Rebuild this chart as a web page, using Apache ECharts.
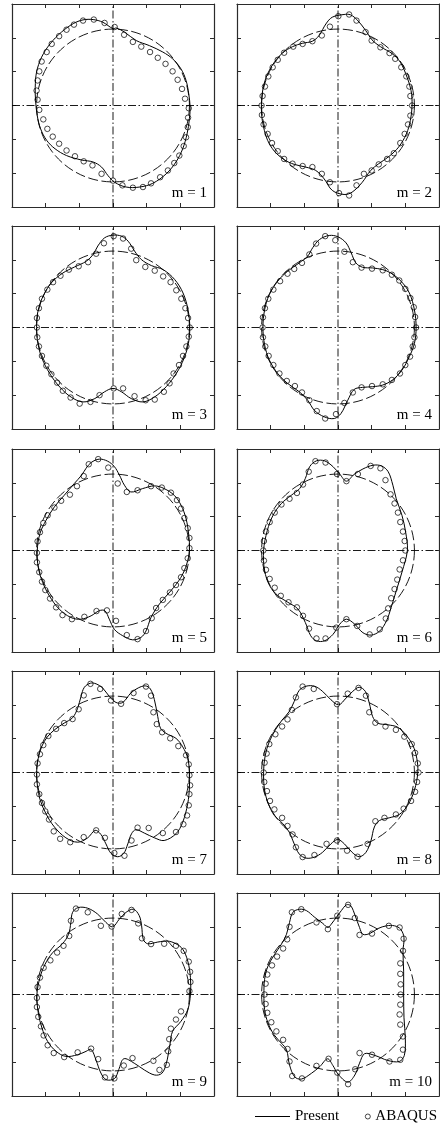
<!DOCTYPE html>
<html>
<head>
<meta charset="utf-8">
<script src="https://cdn.jsdelivr.net/npm/echarts@6/dist/echarts.min.js"></script>
<style>
  html, body { margin: 0; padding: 0; background: #fff; }
  #chart { width: 440px; height: 1129px; }
</style>
</head>
<body>
<div id="chart"></div>
<script>
// Axis range shared by every panel (normalised ring coordinates)
const axisMin = -3, axisMax = 3, tickStep = 1;
// Radius of the undeformed ring (dashed reference)
const refRadius = 2.27;
const modeLabels = ['m = 1', 'm = 2', 'm = 3', 'm = 4', 'm = 5', 'm = 6', 'm = 7', 'm = 8', 'm = 9', 'm = 10'];

// Present solution: deformed ring outlines [x, y]
const present1 = [[0.00,2.27],[-0.30,2.46],[-0.59,2.54],[-0.89,2.53],[-1.18,2.42],[-1.53,2.17],[-1.87,1.82],[-2.12,1.43],[-2.27,0.99],[-2.31,0.54],[-2.30,0.15],[-2.25,-0.30],[-2.15,-0.69],[-1.97,-1.03],[-1.72,-1.28],[-1.38,-1.48],[-0.94,-1.61],[-0.59,-1.67],[-0.34,-1.82],[-0.15,-2.07],[0.05,-2.27],[0.39,-2.41],[0.79,-2.41],[1.18,-2.30],[1.58,-2.02],[1.87,-1.67],[2.07,-1.28],[2.20,-0.84],[2.27,-0.39],[2.29,-0.05],[2.25,0.34],[2.17,0.74],[2.02,1.08],[1.77,1.38],[1.48,1.58],[1.08,1.77],[0.69,1.92],[0.34,2.17],[0.10,2.29]];
const present2 = [[0.18,2.69],[-0.17,2.61],[-0.36,2.41],[-0.56,2.07],[-0.76,1.90],[-1.05,1.84],[-1.35,1.74],[-1.65,1.55],[-1.89,1.28],[-2.09,0.94],[-2.22,0.54],[-2.27,0.15],[-2.27,-0.25],[-2.21,-0.64],[-2.09,-1.03],[-1.89,-1.35],[-1.60,-1.60],[-1.30,-1.74],[-0.96,-1.82],[-0.66,-1.92],[-0.41,-2.17],[-0.17,-2.51],[0.18,-2.63],[0.42,-2.56],[0.72,-2.27],[0.97,-1.92],[1.21,-1.72],[1.51,-1.51],[1.80,-1.23],[2.03,-0.84],[2.15,-0.44],[2.20,0.00],[2.17,0.44],[2.05,0.84],[1.85,1.28],[1.61,1.53],[1.26,1.74],[1.01,1.94],[0.82,2.22],[0.57,2.53],[0.37,2.68]];
const present3 = [[2.28,0.00],[2.23,0.52],[2.08,1.02],[1.83,1.42],[1.49,1.71],[1.14,1.83],[0.84,2.01],[0.64,2.26],[0.45,2.55],[0.25,2.70],[0.00,2.73],[-0.25,2.65],[-0.45,2.41],[-0.59,2.16],[-0.79,1.96],[-1.14,1.79],[-1.49,1.61],[-1.83,1.32],[-2.08,0.92],[-2.23,0.48],[-2.27,0.00],[-2.23,-0.47],[-2.11,-0.91],[-1.88,-1.36],[-1.58,-1.76],[-1.24,-2.06],[-0.89,-2.20],[-0.54,-2.10],[-0.25,-1.90],[0.00,-1.80],[0.25,-1.90],[0.54,-2.10],[0.89,-2.20],[1.24,-2.05],[1.58,-1.75],[1.88,-1.36],[2.11,-0.91],[2.24,-0.47]];
const present4 = [[2.32,0.00],[2.27,0.52],[2.12,1.02],[1.87,1.37],[1.57,1.61],[1.33,1.71],[1.03,1.76],[0.73,1.78],[0.53,1.91],[0.39,2.21],[0.24,2.50],[0.00,2.68],[-0.26,2.72],[-0.55,2.60],[-0.75,2.36],[-0.90,2.11],[-1.15,1.91],[-1.50,1.66],[-1.79,1.37],[-2.04,0.97],[-2.18,0.52],[-2.23,0.00],[-2.18,-0.51],[-2.04,-0.96],[-1.79,-1.36],[-1.50,-1.65],[-1.15,-1.90],[-0.90,-2.15],[-0.70,-2.45],[-0.41,-2.64],[-0.11,-2.69],[0.09,-2.54],[0.29,-2.15],[0.48,-1.83],[0.73,-1.77],[1.03,-1.75],[1.33,-1.70],[1.62,-1.55],[1.90,-1.26],[2.12,-0.86],[2.27,-0.47]];
const present5 = [[2.27,0.00],[2.25,0.45],[2.17,0.94],[2.02,1.34],[1.82,1.63],[1.52,1.83],[1.23,1.91],[0.88,1.83],[0.53,1.73],[0.34,1.93],[0.19,2.23],[0.04,2.48],[-0.16,2.64],[-0.41,2.70],[-0.65,2.60],[-0.80,2.43],[-0.93,2.23],[-1.15,1.98],[-1.45,1.63],[-1.74,1.29],[-1.99,0.89],[-2.17,0.50],[-2.25,0.00],[-2.22,-0.50],[-2.09,-0.94],[-1.89,-1.34],[-1.60,-1.73],[-1.25,-1.98],[-0.95,-2.03],[-0.65,-1.93],[-0.41,-1.78],[-0.24,-1.78],[-0.11,-2.03],[0.04,-2.33],[0.29,-2.52],[0.58,-2.64],[0.83,-2.57],[0.98,-2.38],[1.13,-1.98],[1.38,-1.58],[1.72,-1.19],[2.02,-0.79],[2.19,-0.40]];
const present6 = [[2.06,0.00],[2.01,0.54],[1.90,1.04],[1.73,1.53],[1.63,1.93],[1.49,2.33],[1.29,2.50],[1.04,2.52],[0.74,2.41],[0.48,2.25],[0.25,2.05],[0.05,2.26],[-0.15,2.48],[-0.40,2.65],[-0.64,2.65],[-0.84,2.48],[-0.97,2.13],[-1.14,1.83],[-1.39,1.63],[-1.68,1.39],[-1.93,1.04],[-2.10,0.59],[-2.21,0.00],[-2.18,-0.59],[-2.03,-1.04],[-1.78,-1.34],[-1.49,-1.53],[-1.19,-1.73],[-0.97,-2.13],[-0.81,-2.52],[-0.64,-2.67],[-0.40,-2.67],[-0.15,-2.48],[0.05,-2.18],[0.25,-2.03],[0.50,-2.18],[0.74,-2.43],[0.99,-2.50],[1.24,-2.38],[1.44,-2.08],[1.58,-1.68],[1.73,-1.19],[1.90,-0.64]];
const present7 = [[2.27,0.00],[2.22,0.42],[2.07,0.76],[1.87,1.01],[1.57,1.16],[1.41,1.31],[1.33,1.65],[1.23,2.15],[1.11,2.47],[0.96,2.56],[0.75,2.50],[0.53,2.35],[0.29,2.07],[0.09,2.07],[-0.11,2.25],[-0.31,2.50],[-0.50,2.62],[-0.67,2.64],[-0.85,2.52],[-0.95,2.25],[-1.05,1.90],[-1.20,1.62],[-1.45,1.46],[-1.74,1.26],[-1.96,1.04],[-2.12,0.76],[-2.22,0.42],[-2.27,0.00],[-2.24,-0.43],[-2.16,-0.82],[-1.99,-1.22],[-1.74,-1.61],[-1.40,-1.93],[-1.05,-2.06],[-0.75,-1.93],[-0.53,-1.71],[-0.36,-1.83],[-0.21,-2.11],[-0.06,-2.39],[0.14,-2.49],[0.32,-2.39],[0.44,-2.11],[0.55,-1.81],[0.68,-1.69],[0.93,-1.79],[1.23,-1.93],[1.52,-2.01],[1.87,-1.81],[2.07,-1.47],[2.22,-0.92],[2.27,-0.43]];
const present8 = [[2.37,0.00],[2.34,0.42],[2.22,0.81],[2.02,1.11],[1.77,1.34],[1.48,1.41],[1.18,1.46],[1.03,1.65],[0.93,2.05],[0.81,2.40],[0.63,2.52],[0.44,2.40],[0.24,2.20],[0.02,2.00],[-0.21,2.15],[-0.46,2.40],[-0.70,2.55],[-0.95,2.55],[-1.15,2.43],[-1.30,2.10],[-1.45,1.80],[-1.66,1.55],[-1.86,1.26],[-2.04,0.91],[-2.16,0.51],[-2.21,0.00],[-2.18,-0.52],[-2.07,-0.92],[-1.89,-1.27],[-1.64,-1.51],[-1.45,-1.76],[-1.30,-2.11],[-1.15,-2.41],[-0.95,-2.53],[-0.70,-2.50],[-0.46,-2.36],[-0.21,-2.11],[-0.01,-1.98],[0.19,-2.11],[0.42,-2.36],[0.63,-2.49],[0.83,-2.36],[0.98,-2.01],[1.08,-1.61],[1.23,-1.42],[1.52,-1.34],[1.82,-1.24],[2.07,-0.97],[2.27,-0.52]];
const present9 = [[2.30,0.00],[2.30,0.50],[2.22,0.99],[2.07,1.34],[1.87,1.50],[1.62,1.58],[1.33,1.55],[1.03,1.50],[0.90,1.63],[0.85,2.03],[0.78,2.33],[0.61,2.52],[0.39,2.43],[0.19,2.23],[-0.01,2.00],[-0.21,2.13],[-0.46,2.38],[-0.75,2.55],[-1.03,2.57],[-1.20,2.43],[-1.25,2.13],[-1.32,1.78],[-1.50,1.50],[-1.79,1.24],[-2.02,0.89],[-2.17,0.50],[-2.26,0.00],[-2.22,-0.54],[-2.11,-0.99],[-1.94,-1.39],[-1.69,-1.68],[-1.40,-1.83],[-1.05,-1.78],[-0.80,-1.68],[-0.65,-1.62],[-0.50,-1.95],[-0.36,-2.32],[-0.20,-2.52],[0.05,-2.48],[0.17,-2.22],[0.32,-1.90],[0.63,-2.03],[0.93,-2.23],[1.24,-2.38],[1.45,-2.33],[1.58,-2.05],[1.69,-1.49],[1.77,-1.09],[2.02,-0.79],[2.22,-0.45]];
const present10 = [[1.95,0.00],[1.95,0.69],[1.93,1.29],[1.96,1.68],[1.86,1.93],[1.68,2.03],[1.44,2.03],[1.19,1.95],[0.94,1.80],[0.74,1.78],[0.64,1.98],[0.51,2.33],[0.38,2.62],[0.25,2.65],[0.10,2.48],[-0.05,2.28],[-0.20,2.08],[-0.30,1.98],[-0.45,2.10],[-0.69,2.28],[-0.94,2.48],[-1.14,2.52],[-1.34,2.43],[-1.44,2.13],[-1.53,1.78],[-1.68,1.49],[-1.88,1.19],[-2.08,0.84],[-2.18,0.45],[-2.20,0.00],[-2.18,-0.45],[-2.08,-0.84],[-1.90,-1.19],[-1.68,-1.44],[-1.53,-1.63],[-1.44,-2.08],[-1.29,-2.43],[-1.09,-2.50],[-0.79,-2.33],[-0.54,-2.13],[-0.31,-1.90],[-0.15,-2.10],[0.00,-2.35],[0.29,-2.59],[0.50,-2.38],[0.64,-2.03],[0.79,-1.75],[1.09,-1.80],[1.48,-1.95],[1.82,-1.98],[1.97,-1.80],[2.00,-1.31],[1.96,-0.69]];

// ABAQUS nodal results [x, y]
const abaqus1 = [[-1.16,2.39],[-0.89,2.51],[-0.57,2.54],[-0.25,2.44],[0.05,2.32],[0.33,2.09],[0.59,1.88],[0.84,1.74],[1.10,1.58],[1.33,1.41],[1.56,1.23],[1.77,1.01],[1.92,0.76],[2.05,0.49],[2.14,0.20],[2.25,-0.08],[2.23,-0.36],[2.22,-0.64],[2.17,-0.94],[2.10,-1.20],[1.97,-1.48],[1.82,-1.70],[1.63,-1.92],[1.40,-2.12],[1.13,-2.30],[0.89,-2.41],[0.59,-2.43],[0.28,-2.36],[0.00,-2.22],[-0.34,-2.02],[-0.61,-1.77],[-0.87,-1.65],[-1.13,-1.50],[-1.38,-1.33],[-1.60,-1.13],[-1.79,-0.92],[-1.95,-0.69],[-2.07,-0.41],[-2.19,-0.13],[-2.24,0.17],[-2.27,0.44],[-2.24,0.74],[-2.19,1.01],[-2.12,1.30],[-1.97,1.58],[-1.82,1.82],[-1.60,2.05],[-1.38,2.24]];
const abaqus2 = [[2.20,0.00],[2.15,0.28],[2.12,0.56],[2.03,0.86],[1.88,1.13],[1.70,1.38],[1.53,1.55],[1.26,1.72],[1.00,1.92],[0.82,2.17],[0.55,2.51],[0.33,2.69],[0.01,2.64],[-0.24,2.33],[-0.48,2.07],[-0.76,1.90],[-1.05,1.82],[-1.33,1.74],[-1.60,1.56],[-1.79,1.35],[-1.94,1.13],[-2.07,0.86],[-2.17,0.56],[-2.24,0.28],[-2.27,0.00],[-2.26,-0.28],[-2.21,-0.56],[-2.09,-0.84],[-1.96,-1.11],[-1.79,-1.35],[-1.60,-1.58],[-1.35,-1.72],[-1.05,-1.79],[-0.76,-1.82],[-0.48,-2.02],[-0.24,-2.27],[0.03,-2.59],[0.33,-2.66],[0.55,-2.36],[0.77,-2.02],[1.00,-1.92],[1.21,-1.74],[1.46,-1.58],[1.66,-1.41],[1.85,-1.11],[1.98,-0.84],[2.08,-0.56],[2.15,-0.30]];
const abaqus3 = [[0.02,2.70],[0.30,2.63],[0.54,2.33],[0.69,1.99],[0.96,1.79],[1.24,1.68],[1.49,1.51],[1.71,1.34],[1.88,1.10],[2.03,0.85],[2.15,0.57],[2.23,0.28],[2.28,0.00],[2.25,-0.27],[2.18,-0.56],[2.08,-0.84],[1.96,-1.11],[1.80,-1.36],[1.68,-1.65],[1.51,-1.90],[1.24,-2.13],[0.97,-2.15],[0.64,-2.03],[0.30,-1.80],[0.02,-1.80],[-0.40,-2.00],[-0.67,-2.20],[-0.99,-2.25],[-1.26,-2.07],[-1.49,-1.87],[-1.66,-1.63],[-1.83,-1.38],[-1.98,-1.13],[-2.11,-0.84],[-2.20,-0.56],[-2.25,-0.29],[-2.26,0.00],[-2.26,0.28],[-2.20,0.57],[-2.11,0.85],[-1.95,1.12],[-1.78,1.34],[-1.56,1.53],[-1.31,1.71],[-1.02,1.81],[-0.74,1.93],[-0.50,2.18],[-0.27,2.49]];
const abaqus4 = [[2.32,0.00],[2.29,0.31],[2.25,0.60],[2.15,0.87],[2.00,1.14],[1.82,1.39],[1.60,1.56],[1.33,1.69],[1.01,1.74],[0.70,1.77],[0.44,1.93],[0.19,2.24],[-0.08,2.58],[-0.38,2.70],[-0.65,2.48],[-0.85,2.16],[-1.07,1.91],[-1.30,1.73],[-1.50,1.59],[-1.72,1.37],[-1.92,1.12],[-2.07,0.85],[-2.17,0.57],[-2.23,0.30],[-2.24,0.00],[-2.23,-0.29],[-2.16,-0.56],[-2.06,-0.84],[-1.92,-1.11],[-1.74,-1.36],[-1.52,-1.58],[-1.28,-1.73],[-1.07,-1.92],[-0.85,-2.15],[-0.63,-2.47],[-0.38,-2.69],[-0.06,-2.56],[0.19,-2.23],[0.44,-1.92],[0.70,-1.77],[1.01,-1.73],[1.33,-1.68],[1.60,-1.55],[1.84,-1.36],[2.00,-1.11],[2.14,-0.86],[2.22,-0.56],[2.27,-0.29]];
const abaqus5 = [[2.27,0.07],[2.27,0.37],[2.22,0.66],[2.12,0.96],[2.02,1.24],[1.90,1.49],[1.72,1.71],[1.45,1.86],[1.13,1.90],[0.73,1.78],[0.41,1.73],[0.14,1.98],[-0.14,2.45],[-0.44,2.70],[-0.72,2.55],[-0.87,2.20],[-1.07,1.90],[-1.28,1.65],[-1.54,1.47],[-1.74,1.27],[-1.94,1.04],[-2.07,0.81],[-2.17,0.54],[-2.24,0.27],[-2.26,-0.07],[-2.26,-0.35],[-2.19,-0.64],[-2.11,-0.92],[-2.01,-1.17],[-1.87,-1.42],[-1.69,-1.68],[-1.50,-1.91],[-1.22,-2.03],[-0.85,-1.96],[-0.49,-1.79],[-0.18,-1.77],[0.09,-2.08],[0.41,-2.50],[0.73,-2.62],[0.98,-2.38],[1.15,-2.00],[1.28,-1.70],[1.48,-1.46],[1.69,-1.24],[1.87,-1.02],[2.02,-0.79],[2.12,-0.52],[2.22,-0.23]];
const abaqus6 = [[2.00,0.00],[1.98,0.28],[1.93,0.56],[1.85,0.84],[1.78,1.12],[1.68,1.39],[1.56,1.66],[1.41,2.08],[1.26,2.43],[0.97,2.50],[0.59,2.26],[0.25,2.05],[-0.03,2.26],[-0.37,2.60],[-0.67,2.64],[-0.87,2.33],[-1.04,1.95],[-1.22,1.70],[-1.44,1.53],[-1.68,1.36],[-1.88,1.12],[-2.03,0.84],[-2.14,0.56],[-2.20,0.28],[-2.22,0.00],[-2.20,-0.30],[-2.14,-0.57],[-2.03,-0.84],[-1.88,-1.10],[-1.70,-1.34],[-1.47,-1.53],[-1.22,-1.68],[-1.04,-1.93],[-0.86,-2.31],[-0.64,-2.60],[-0.37,-2.60],[-0.05,-2.28],[0.25,-2.03],[0.57,-2.23],[0.94,-2.48],[1.24,-2.33],[1.42,-2.01],[1.49,-1.71],[1.58,-1.41],[1.68,-1.14],[1.76,-0.86],[1.83,-0.56],[1.93,-0.29]];
const abaqus7 = [[2.27,-0.08],[2.25,0.24],[2.17,0.51],[1.94,0.78],[1.70,1.01],[1.46,1.19],[1.30,1.43],[1.20,1.78],[1.13,2.27],[0.98,2.54],[0.61,2.35],[0.24,2.03],[-0.06,2.13],[-0.38,2.47],[-0.67,2.62],[-0.87,2.28],[-1.02,1.87],[-1.20,1.58],[-1.45,1.46],[-1.69,1.29],[-1.92,1.08],[-2.07,0.81],[-2.17,0.54],[-2.24,0.27],[-2.26,-0.06],[-2.26,-0.35],[-2.19,-0.64],[-2.11,-0.90],[-2.01,-1.15],[-1.90,-1.39],[-1.76,-1.74],[-1.57,-1.96],[-1.27,-2.06],[-0.87,-1.91],[-0.50,-1.71],[-0.24,-1.93],[0.04,-2.38],[0.34,-2.46],[0.55,-2.01],[0.73,-1.63],[1.06,-1.64],[1.48,-1.79],[1.87,-1.76],[2.09,-1.53],[2.20,-1.27],[2.25,-0.97],[2.27,-0.64],[2.29,-0.38]];
const abaqus8 = [[2.39,0.00],[2.37,0.27],[2.29,0.58],[2.19,0.84],[1.97,1.06],[1.72,1.26],[1.41,1.36],[1.11,1.47],[0.93,1.78],[0.83,2.27],[0.61,2.50],[0.29,2.33],[-0.03,2.02],[-0.72,2.47],[-1.05,2.54],[-1.25,2.22],[-1.37,1.85],[-1.50,1.57],[-1.66,1.36],[-1.86,1.13],[-2.04,0.84],[-2.12,0.56],[-2.18,0.29],[-2.21,0.00],[-2.19,-0.28],[-2.11,-0.55],[-2.02,-0.84],[-1.89,-1.09],[-1.66,-1.34],[-1.50,-1.58],[-1.35,-1.83],[-1.25,-2.21],[-1.05,-2.50],[-0.70,-2.44],[-0.34,-2.11],[-0.03,-2.01],[0.27,-2.31],[0.58,-2.49],[0.88,-2.11],[1.11,-1.44],[1.38,-1.34],[1.72,-1.24],[1.95,-1.07],[2.17,-0.84],[2.29,-0.57],[2.35,-0.28]];
const abaqus9 = [[2.27,0.10],[2.30,0.37],[2.29,0.67],[2.25,0.97],[2.10,1.29],[1.87,1.44],[1.52,1.50],[1.13,1.49],[0.86,1.66],[0.75,2.10],[0.55,2.50],[0.26,2.38],[-0.04,2.01],[-0.36,2.03],[-0.75,2.43],[-1.10,2.54],[-1.25,2.18],[-1.30,1.73],[-1.47,1.44],[-1.66,1.24],[-1.86,1.01],[-2.06,0.79],[-2.17,0.50],[-2.24,0.22],[-2.26,-0.10],[-2.26,-0.37],[-2.22,-0.66],[-2.14,-0.94],[-2.06,-1.21],[-1.94,-1.50],[-1.76,-1.73],[-1.45,-1.85],[-1.05,-1.71],[-0.65,-1.60],[-0.44,-1.91],[-0.24,-2.45],[0.04,-2.48],[0.32,-2.10],[0.58,-1.88],[1.20,-1.96],[1.38,-2.23],[1.60,-2.08],[1.64,-1.68],[1.67,-1.32],[1.72,-1.01],[1.87,-0.74],[2.02,-0.50]];
const abaqus10 = [[1.86,0.00],[1.86,0.30],[1.85,0.61],[1.85,0.92],[1.93,1.29],[1.95,1.65],[1.83,1.98],[1.51,2.03],[1.01,1.80],[0.64,1.76],[0.50,2.26],[0.30,2.65],[-0.02,2.33],[-0.30,1.93],[-0.64,2.13],[-1.09,2.52],[-1.37,2.43],[-1.44,2.00],[-1.51,1.63],[-1.63,1.36],[-1.81,1.12],[-1.96,0.86],[-2.10,0.59],[-2.15,0.32],[-2.18,0.00],[-2.15,-0.28],[-2.10,-0.54],[-1.98,-0.82],[-1.83,-1.09],[-1.63,-1.34],[-1.50,-1.61],[-1.44,-1.98],[-1.36,-2.41],[-1.07,-2.48],[-0.64,-2.11],[-0.28,-1.90],[-0.02,-2.31],[0.30,-2.65],[0.51,-2.21],[0.64,-1.73],[1.01,-1.78],[1.53,-1.98],[1.85,-1.93],[1.93,-1.63],[1.93,-1.24],[1.85,-0.89],[1.83,-0.59],[1.85,-0.30]];

const presentCurves = [present1, present2, present3, present4, present5, present6, present7, present8, present9, present10];
const abaqusPoints = [abaqus1, abaqus2, abaqus3, abaqus4, abaqus5, abaqus6, abaqus7, abaqus8, abaqus9, abaqus10];

// Panel layout (two columns, five rows)
const colLeft = [12, 237];
const rowTop = [4, 226, 449, 671, 893];
const panelW = 202, panelH = 203;
const ink = '#000';
const frameInk = '#2b2b2b';
const serif = '"Liberation Serif", "Times New Roman", serif';

function frameAxis(position, gridIndex) {
  return {
    type: 'value', gridIndex, position,
    min: axisMin, max: axisMax, interval: tickStep,
    axisLine: { show: true, onZero: false, lineStyle: { color: frameInk, width: 1.2 } },
    axisTick: { show: true, inside: true, length: 4, lineStyle: { color: frameInk, width: 1 } },
    axisLabel: { show: false },
    splitLine: { show: false }
  };
}

const grids = [], xAxes = [], yAxes = [], series = [], graphics = [];

presentCurves.forEach((curve, i) => {
  const left = colLeft[i % 2];
  const top = rowTop[Math.floor(i / 2)];
  grids.push({ left, top, width: panelW, height: panelH });
  xAxes.push(frameAxis('bottom', i), frameAxis('top', i));
  yAxes.push(frameAxis('left', i), frameAxis('right', i));
  const ax = { xAxisIndex: 2 * i, yAxisIndex: 2 * i };
  const centreLine = { color: ink, width: 0.9, type: [8, 2.5, 1.5, 2.5] };

  // dash-dot centre lines
  series.push(Object.assign({
    type: 'line', data: [[axisMin, 0], [axisMax, 0]], symbol: 'none',
    lineStyle: centreLine, silent: true, z: 1
  }, ax));
  series.push(Object.assign({
    type: 'line', data: [[0, axisMin], [0, axisMax]], symbol: 'none',
    lineStyle: centreLine, silent: true, z: 1
  }, ax));

  // undeformed ring
  series.push(Object.assign({
    type: 'custom', data: [[0, 0, refRadius]], encode: { x: 0, y: 1 }, silent: true, z: 2,
    renderItem: (params, api) => {
      const c = api.coord([api.value(0), api.value(1)]);
      const r = api.size([api.value(2), 0])[0];
      return {
        type: 'circle', shape: { cx: c[0], cy: c[1], r },
        style: { fill: 'none', stroke: ink, lineWidth: 0.9, lineDash: [10, 3.5] }
      };
    }
  }, ax));

  // present solution as a closed smooth outline
  series.push(Object.assign({
    name: 'Present', type: 'custom', data: curve, encode: { x: 0, y: 1 }, silent: true, z: 3,
    renderItem: (params, api) => {
      if (params.dataIndex !== 0) return null;
      const pts = curve.map(p => api.coord(p));
      return {
        type: 'polygon', shape: { points: pts, smooth: 0.35 },
        style: { fill: 'none', stroke: ink, lineWidth: 1 }
      };
    }
  }, ax));

  // ABAQUS nodes
  series.push(Object.assign({
    name: 'ABAQUS', type: 'scatter', data: abaqusPoints[i], symbol: 'circle', symbolSize: 5.5,
    itemStyle: { color: 'rgba(255,255,255,0)', borderColor: ink, borderWidth: 0.9 },
    silent: true, z: 4
  }, ax));

  graphics.push({
    type: 'text', x: left + panelW - 7, y: top + panelH - 14, z: 10,
    style: {
      text: modeLabels[i], font: '15px ' + serif, fill: ink,
      align: 'right', verticalAlign: 'middle', textAlign: 'right', textVerticalAlign: 'middle'
    }
  });
});

const chart = echarts.init(document.getElementById('chart'), null, { renderer: 'canvas' });
chart.setOption({
  animation: false,
  backgroundColor: '#fff',
  grid: grids,
  xAxis: xAxes,
  yAxis: yAxes,
  legend: [
    {
      data: [{ name: 'Present', icon: 'rect' }], left: 255, top: 1109, padding: 0,
      itemWidth: 35, itemHeight: 1, selectedMode: false,
      itemStyle: { color: ink, borderWidth: 0 },
      textStyle: { fontFamily: serif, fontSize: 15, color: ink }
    },
    {
      data: [{ name: 'ABAQUS', icon: 'circle' }], right: 3, top: 1109, padding: 0,
      itemWidth: 5, itemHeight: 5, selectedMode: false,
      itemStyle: { color: 'rgba(255,255,255,0)', borderColor: ink, borderWidth: 0.9 },
      textStyle: { fontFamily: serif, fontSize: 15, color: ink }
    }
  ],
  graphic: graphics,
  series
});
</script>
</body>
</html>
